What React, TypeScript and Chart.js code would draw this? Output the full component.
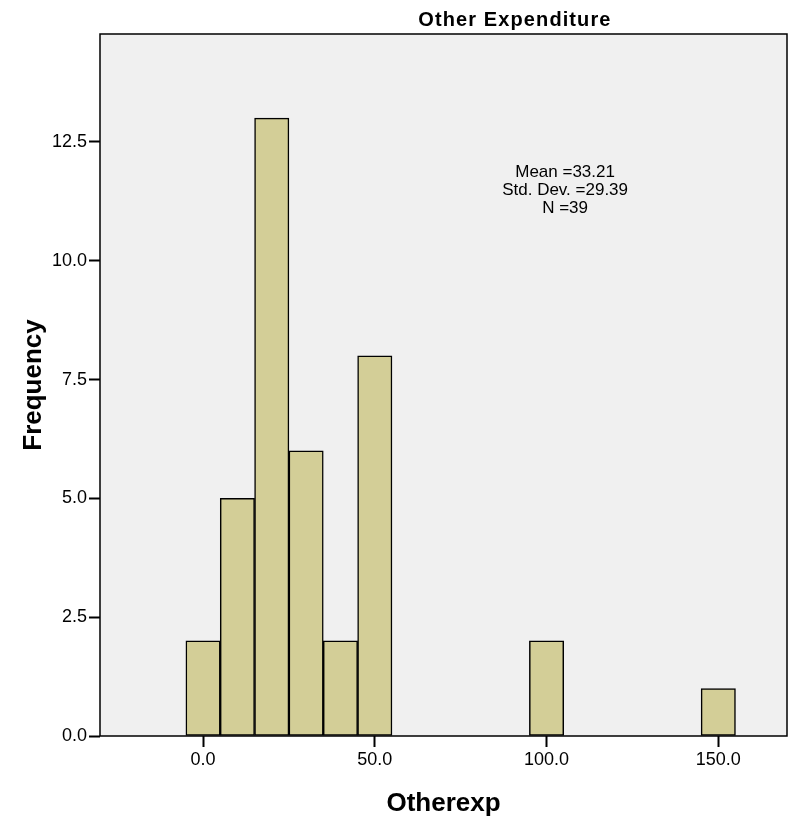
import React, { useEffect, useRef } from "react";
import { Chart, registerables } from "chart.js";

Chart.register(...registerables);

const binCenters = [0, 10, 20, 30, 40, 50, 100, 150];
const frequencies = [2, 5, 13, 6, 2, 8, 2, 1];
const xTickValues = [0, 50, 100, 150];
const yTickValues = [0, 2.5, 5, 7.5, 10, 12.5];
const statsLines = ["Mean =33.21", "Std. Dev. =29.39", "N =39"];
const chartTitle = "Other Expenditure";
const xTitle = "Otherexp";
const yTitle = "Frequency";

const FAMILY = "Arial, 'Liberation Sans', sans-serif";

const decorPlugin = {
  id: "decor",
  beforeDraw(chart: any) {
    const { ctx, chartArea: a } = chart;
    ctx.save();
    ctx.fillStyle = "#F0F0F0";
    ctx.fillRect(a.left, a.top, a.right - a.left, a.bottom - a.top);
    ctx.restore();
  },
  afterDatasetsDraw(chart: any) {
    const { ctx, chartArea: a } = chart;
    ctx.save();
    ctx.strokeStyle = "#000";
    ctx.lineWidth = 1.5;
    ctx.strokeRect(a.left, a.top, a.right - a.left, a.bottom - a.top);
    ctx.restore();
  },
  afterDraw(chart: any) {
    const { ctx, chartArea: a } = chart;
    const w = a.right - a.left;
    ctx.save();
    ctx.fillStyle = "#000";
    ctx.textAlign = "center";
    ctx.textBaseline = "alphabetic";
    ctx.font = `bold 20px ${FAMILY}`;
    try { (ctx as any).letterSpacing = "1.1px"; } catch (e) {}
    ctx.fillText(chartTitle, a.left + w * 0.604, a.top - 8);
    try { (ctx as any).letterSpacing = "0px"; } catch (e) {}
    ctx.font = `17px ${FAMILY}`;
    const cx = a.left + w * 0.677;
    statsLines.forEach((line, i) => {
      ctx.fillText(line, cx, a.top + 143 + i * 18);
    });
    ctx.restore();
  },
};

export default function App() {
  const canvasRef = useRef<HTMLCanvasElement | null>(null);

  useEffect(() => {
    if (!canvasRef.current) return;
    const chart = new Chart(canvasRef.current, {
      type: "bar",
      data: {
        datasets: [
          {
            label: yTitle,
            data: binCenters.map((x, i) => ({ x, y: frequencies[i] })),
            backgroundColor: "#D3CE97",
            borderColor: "#000000",
            borderWidth: 1.5,
            borderSkipped: false,
            barPercentage: 1,
            categoryPercentage: 1,
          },
        ],
      },
      options: {
        animation: false,
        responsive: true,
        maintainAspectRatio: false,
        layout: { padding: { top: 34, right: 5, left: 0, bottom: 0 } },
        plugins: {
          legend: { display: false },
          tooltip: { enabled: false },
          title: { display: false },
        },
        scales: {
          x: {
            type: "linear",
            min: -30,
            max: 170,
            offset: false,
            afterBuildTicks: (s: any) => {
              s.ticks = xTickValues.map((v) => ({ value: v }));
            },
            afterFit: (s: any) => {
              s.height = 83;
            },
            grid: {
              display: true,
              drawOnChartArea: false,
              drawTicks: true,
              tickLength: 11,
              tickWidth: 2,
              tickColor: "#000",
              offset: false,
            },
            border: { display: false },
            ticks: {
              color: "#000",
              font: { size: 18, family: FAMILY },
              padding: 2,
              maxRotation: 0,
              autoSkip: false,
              callback: (v: any) => Number(v).toFixed(1),
            },
            title: {
              display: true,
              text: xTitle,
              color: "#000",
              font: { size: 26, weight: "bold", family: FAMILY },
              padding: { top: 0, bottom: 0 },
            },
          },
          y: {
            type: "linear",
            min: 0,
            max: 14.77,
            afterBuildTicks: (s: any) => {
              s.ticks = yTickValues.map((v) => ({ value: v }));
            },
            afterFit: (s: any) => {
              s.width = 100;
            },
            grid: {
              display: true,
              drawOnChartArea: false,
              drawTicks: true,
              tickLength: 11,
              tickWidth: 2,
              tickColor: "#000",
            },
            border: { display: false },
            ticks: {
              color: "#000",
              font: { size: 18, family: FAMILY },
              padding: 2,
              autoSkip: false,
              callback: (v: any) => Number(v).toFixed(1),
            },
            title: {
              display: true,
              text: yTitle,
              color: "#000",
              font: { size: 26, weight: "bold", family: FAMILY },
              padding: { top: 18, bottom: 0 },
            },
          },
        },
      } as any,
      plugins: [decorPlugin],
    });
    return () => chart.destroy();
  }, []);

  return (
    <div style={{ position: "absolute", left: 0, top: 0, width: 792, height: 819, background: "#fff" }}>
      <canvas ref={canvasRef} />
    </div>
  );
}
